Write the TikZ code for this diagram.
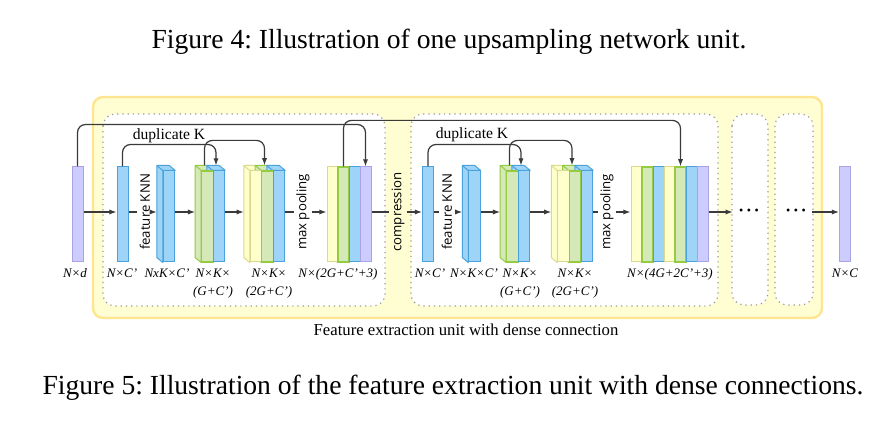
\documentclass[tikz,border=0pt]{standalone}
\usepackage{fontspec}
\setmainfont{Liberation Serif}
\setsansfont{Open Sans}
\usetikzlibrary{arrows.meta}
\definecolor{purpfill}{HTML}{CCCCFF}
\definecolor{purpline}{HTML}{A9A3E3}
\definecolor{bluefill}{HTML}{9DD4F8}
\definecolor{blueline}{HTML}{4AA2DC}
\definecolor{grnfill}{HTML}{D5E8B8}
\definecolor{grnline}{HTML}{95CB42}
\definecolor{yelfill}{HTML}{FFFFCC}
\definecolor{yelline}{HTML}{DADA8E}
\definecolor{unitfill}{HTML}{FFFDD2}
\definecolor{unitline}{HTML}{FFE58F}
\definecolor{arrowgray}{HTML}{3A3A3A}
\pgfdeclarelayer{bg}
\pgfdeclarelayer{mid}
\pgfsetlayers{bg,mid,main}
\frenchspacing

\begin{document}
\begin{tikzpicture}[x=0.5pt,y=-0.5pt]
\tikzset{bar/.style = {draw, line width=0.5pt, minimum width=5.5pt, minimum height=47.5pt, inner sep=0pt}}
\tikzset{slab/.style = {draw, line width=0.5pt, minimum width=5.75pt, minimum height=45.5pt, inner sep=0pt}}
\tikzset{purp/.style = {fill=purpfill, draw=purpline}}
\tikzset{blu/.style = {fill=bluefill, draw=blueline}}
\tikzset{grn/.style = {fill=grnfill, draw=grnline, line width=0.6pt}}
\tikzset{yel/.style = {fill=yelfill, draw=yelline}}
\tikzset{flow/.style = {draw=arrowgray, line width=0.6pt}}
\tikzset{conn/.style = {flow, -{Latex[length=3.6pt,width=2.6pt]}}}
\tikzset{op/.style = {font=\fontsize{6.6}{7}\sffamily, rotate=90, inner sep=1pt}}
\tikzset{dim/.style = {font=\fontsize{6.5}{9}\selectfont\itshape, align=center, anchor=north, inner sep=0pt}}
\tikzset{note/.style = {font=\fontsize{7.8}{9}\selectfont, inner sep=0pt}}
\tikzset{figcap/.style = {font=\fontsize{13.8}{16}\selectfont, inner sep=0pt}}
\tikzset{unit/.style = {draw=gray!80, dotted, line width=0.6pt, fill=white, rounded corners=6pt}}
\useasboundingbox (0,0) rectangle (895,431);

\node[figcap] (fig4) at (449,42) {Figure 4: Illustration of one upsampling network unit.};
\node[figcap] (fig5) at (453,388) {Figure 5: Illustration of the feature extraction unit with dense connections.};

% containers
\begin{pgfonlayer}{bg}
\draw[fill=unitfill, draw=unitline, line width=1.2pt, rounded corners=5pt] (93,97) rectangle (822,318);
\draw[unit] (103,114) rectangle (385,306);
\draw[unit] (411,114) rectangle (718,306);
\draw[unit] (732,114) rectangle (768,305);
\draw[unit] (775,114) rectangle (813,305);
\end{pgfonlayer}
\node[note, font=\fontsize{8.35}{9}\selectfont] (title) at (466,330) {Feature extraction unit with dense connection};

\coordinate (mid) at (0,212);

% first unit
\node[bar,purp] (in) at (77.5,214.5) {};
\node[bar,blu] (u1c) at (122.5,214.5) {};
\node[slab,blu] (u1k) at (169,216.5) {};
\node[slab,grn] (u1g1) at (207.5,216.5) {};
\node[slab,blu] (u1b1) at (219,216.5) {};
\node[slab,yel] (u1y2) at (256,216.5) {};
\node[slab,grn] (u1g2) at (267.5,216.5) {};
\node[slab,blu] (u1b2) at (279,216.5) {};
\node[bar,yel] (u1p1) at (332.5,214.5) {};
\node[bar,grn] (u1p2) at (343.5,214.5) {};
\node[bar,blu] (u1p3) at (354.5,214.5) {};
\node[bar,purp] (u1p4) at (365.5,214.5) {};

% second unit
\node[bar,blu] (u2c) at (428,214.5) {};
\node[slab,blu] (u2k) at (474.5,216.5) {};
\node[slab,grn] (u2g1) at (512.5,216.5) {};
\node[slab,blu] (u2b1) at (524,216.5) {};
\node[slab,yel] (u2y2) at (563.5,216.5) {};
\node[slab,grn] (u2g2) at (575,216.5) {};
\node[slab,blu] (u2b2) at (587,216.5) {};
\node[bar,yel] (u2f1) at (636.5,214.5) {};
\node[bar,grn] (u2f2) at (647.5,214.5) {};
\node[bar,blu] (u2f3) at (658.5,214.5) {};
\node[bar,yel] (u2f4) at (669.5,214.5) {};
\node[bar,grn] (u2f5) at (680.5,214.5) {};
\node[bar,blu] (u2f6) at (691.5,214.5) {};
\node[bar,purp] (u2f7) at (702.5,214.5) {};

\node[bar,purp] (out) at (845,214.5) {};

% depth of the slabs
\begin{pgfonlayer}{mid}
\foreach \n/\f/\d in {u1k/bluefill/blueline, u1g1/grnfill/grnline, u1b1/bluefill/blueline,
  u1y2/yelfill/yelline, u1g2/grnfill/grnline, u1b2/bluefill/blueline,
  u2k/bluefill/blueline, u2g1/grnfill/grnline, u2b1/bluefill/blueline,
  u2y2/yelfill/yelline, u2g2/grnfill/grnline, u2b2/bluefill/blueline} {
  \filldraw[fill=\f, draw=\d, line width=0.5pt, line join=round] (\n.south west) -- ([shift={(-6,-5)}]\n.south west)
    -- ([shift={(-6,-5)}]\n.north west) -- ([shift={(-6,-5)}]\n.north east) -- (\n.north east) -- (\n.north west) -- cycle
    ([shift={(-6,-5)}]\n.north west) -- (\n.north west);
  \coordinate (\n-bw) at ([shift={(-6,0)}]\n.west);
  \coordinate (\n-top) at ([shift={(-3,-5)}]\n.north);
}
\end{pgfonlayer}

\node[op] (knn1) at (145,212) {feature KNN};
\node[op] (pool1) at (303,212) {max pooling};
\node[op] (comp) at (398,212) {compression};
\node[op] (knn2) at (447,212) {feature KNN};
\node[op] (pool2) at (607,212) {max pooling};
\node[font=\fontsize{6}{6}\selectfont, inner sep=3pt] (dots1) at (749,212) {\textbullet\hspace{1.8pt}\textbullet\hspace{1.8pt}\textbullet};
\node[font=\fontsize{6}{6}\selectfont, inner sep=3pt] (dots2) at (796,212) {\textbullet\hspace{1.8pt}\textbullet\hspace{1.8pt}\textbullet};

% main flow
\draw[conn] (in.east |- mid) -- (u1c.west |- mid);
\draw[flow] (u1c.east |- mid) -- (knn1);
\draw[conn] (knn1) -- (u1k-bw |- mid);
\draw[conn] (u1k.east |- mid) -- (u1g1-bw |- mid);
\draw[conn] (u1b1.east |- mid) -- (u1y2-bw |- mid);
\draw[flow] (u1b2.east |- mid) -- (pool1);
\draw[conn] (pool1) -- (u1p1.west |- mid);
\draw[flow] (u1p4.east |- mid) -- (comp);
\draw[conn] (comp) -- (u2c.west |- mid);
\draw[flow] (u2c.east |- mid) -- (knn2);
\draw[conn] (knn2) -- (u2k-bw |- mid);
\draw[conn] (u2k.east |- mid) -- (u2g1-bw |- mid);
\draw[conn] (u2b1.east |- mid) -- (u2y2-bw |- mid);
\draw[flow] (u2b2.east |- mid) -- (pool2);
\draw[conn] (pool2) -- (u2f1.west |- mid);
\draw[conn] (u2f7.east |- mid) -- (dots1);
\draw[conn] (dots2) -- (out.west |- mid);

% dense and duplicate links
\draw[conn, rounded corners=4pt] (in.north) -- ++(0,-42) -| (u1p4.north);
\draw[conn, rounded corners=4pt] (u1p2.north) -- ++(0,-46) -| (u2f5.north);
\draw[conn, rounded corners=4pt] (u1c.north) -- ++(0,-22) -| (u1b1-top);
\draw[conn, rounded corners=4pt] (u1g1-top) -- ++(0,-25) -| (u1g2-top);
\draw[conn, rounded corners=4pt] (u2c.north) -- ++(0,-22) -| (u2b1-top);
\draw[conn, rounded corners=4pt] (u2g1-top) -- ++(0,-25) -| (u2g2-top);
\node[note] (dup1) at (169,136) {duplicate K};
\node[note] (dup2) at (472,135) {duplicate K};

% sizes
\node[dim] (lin) at (75,268.5) {N×d};
\node[dim] (l1c) at (122,268.5) {N×C'};
\node[dim] (l1k) at (167,268.5) {NxK×C'};
\node[dim] (l1g) at (213,268.5) {N×K×\\(G+C')};
\node[dim] (l1y) at (269,268.5) {N×K×\\(2G+C')};
\node[dim] (l1p) at (338,268.5) {N×(2G+C'+3)};
\node[dim] (l2c) at (430,268.5) {N×C'};
\node[dim] (l2k) at (474,268.5) {N×K×C'};
\node[dim] (l2g) at (520,268.5) {N×K×\\(G+C')};
\node[dim] (l2y) at (575,268.5) {N×K×\\(2G+C')};
\node[dim] (l2f) at (670,268.5) {N×(4G+2C'+3)};
\node[dim] (lout) at (845,268.5) {N×C};
\end{tikzpicture}
\end{document}
